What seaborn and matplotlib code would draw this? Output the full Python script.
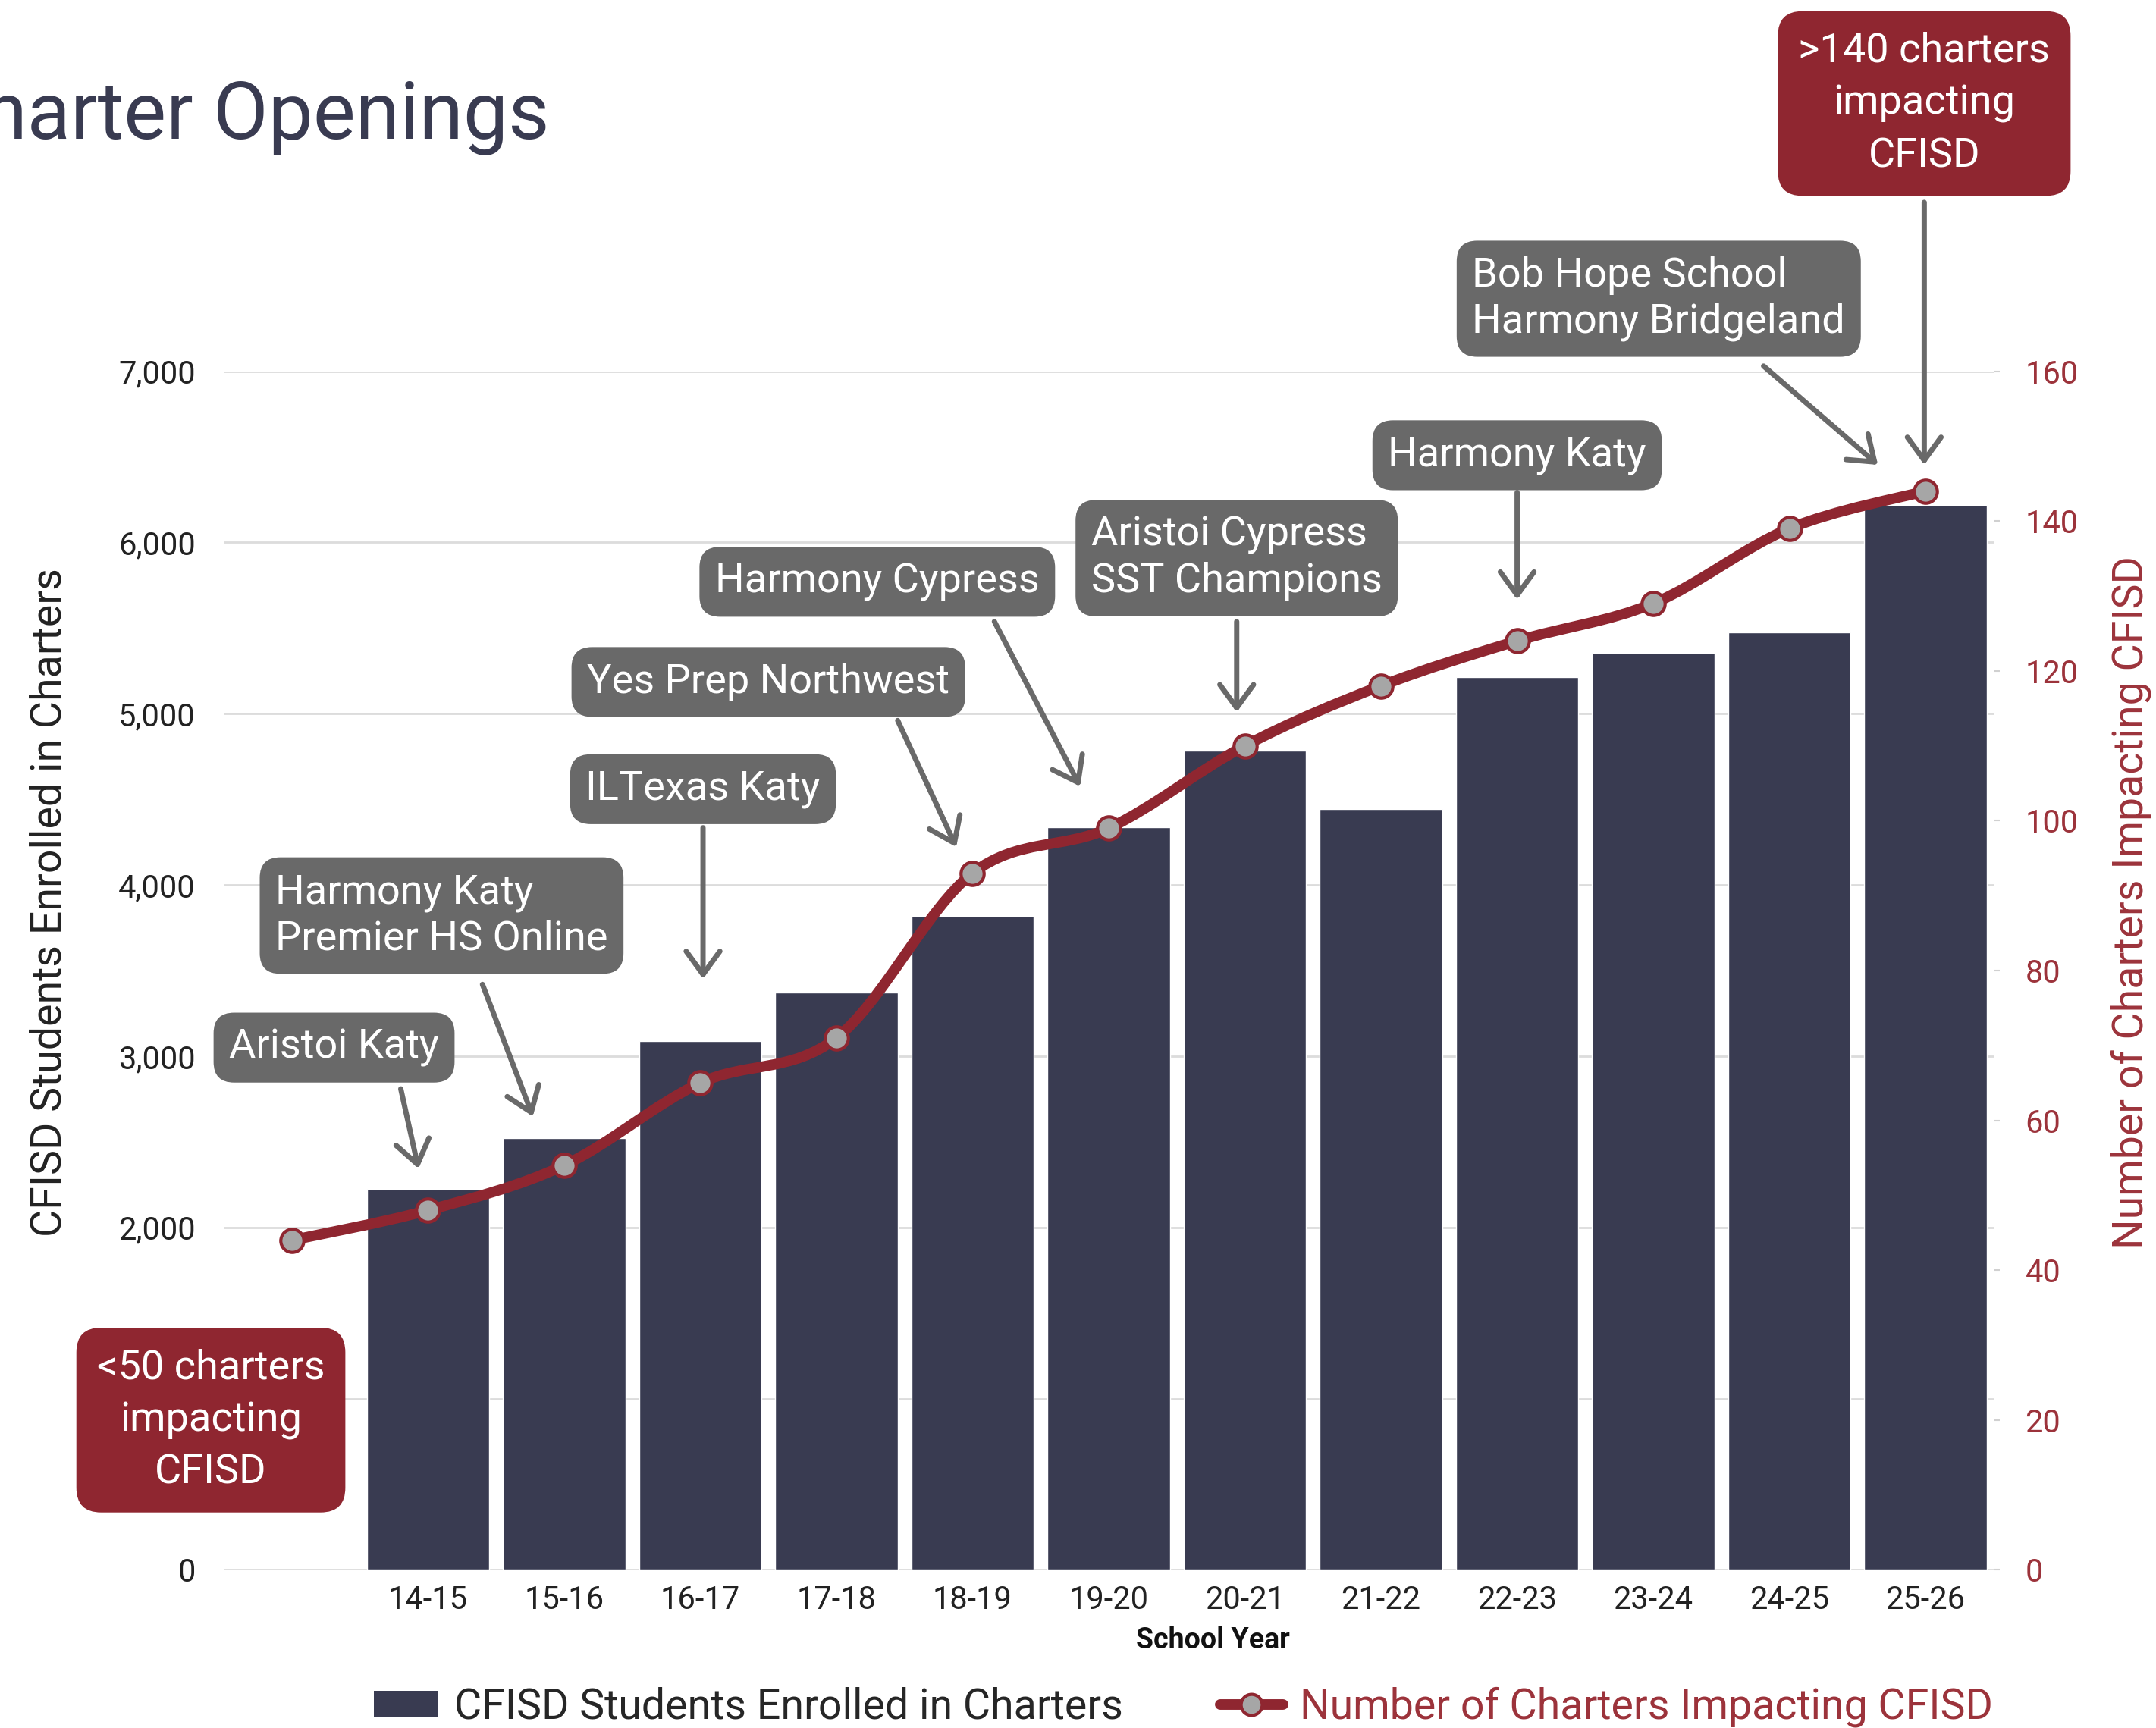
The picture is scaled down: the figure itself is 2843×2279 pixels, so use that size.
import numpy as np
import pandas as pd
import matplotlib
matplotlib.use('Agg')
import matplotlib.pyplot as plt
import seaborn as sns
from matplotlib.path import Path
from matplotlib.patches import PathPatch, Patch
from matplotlib.lines import Line2D
from matplotlib.ticker import FuncFormatter

# data
years = ['', '14-15', '15-16', '16-17', '17-18', '18-19', '19-20',
         '20-21', '21-22', '22-23', '23-24', '24-25', '25-26']
bar_years = years[1:]
students = [2225, 2520, 3090, 3370, 3820, 4335, 4785, 4445, 5215, 5355, 5475, 6220]
charters = [44, 48, 54, 65, 71, 93, 99, 110, 118, 124, 129, 139, 144]

navy = '#393b51'
red = '#8f2630'
red_txt = '#9c333b'
grey_box = '#696969'

sns.set_style('white')
plt.rcParams['font.family'] = ['Roboto', 'DejaVu Sans']

fig = plt.figure(figsize=(28.43, 22.79), dpi=100)
ax = fig.add_axes([0.1038, 0.0915, 0.8209, 0.6937])

df = pd.DataFrame({'year': bar_years, 'students': students})
sns.barplot(data=df, x='year', y='students', order=years, color=navy,
            saturation=1, width=0.9, ax=ax)
ax.set_xlim(-0.5, len(years) - 0.5)
ax.set_ylim(0, 7000)
ax.set_yticks(range(0, 7001, 1000))
# the 1,000 label sits under the "<50 charters" box in the original
ax.yaxis.set_major_formatter(FuncFormatter(lambda v, p: '' if v == 1000 else f'{int(v):,}'))
ax.yaxis.grid(True, color='#dcdcdc', lw=2)
ax.set_axisbelow(True)
ax.tick_params(axis='y', length=0, pad=27, labelsize=30, labelcolor='#222222')
ax.tick_params(axis='x', length=0, pad=14, labelsize=30, labelcolor='#222222')
ax.set_ylabel('CFISD Students Enrolled in Charters', fontsize=40, color='#222222')
ax.yaxis.set_label_coords(-0.0874, 0.557)
ax.set_xlabel('School Year', fontsize=27, fontweight='bold', color='#111111')
ax.xaxis.set_label_coords(0.559, -0.047)
for s in ax.spines.values():
    s.set_visible(False)

ax2 = ax.twinx()
ax2.set_ylim(0, 160)
ax2.set_yticks(range(0, 161, 20))
ax2.tick_params(axis='y', length=6, width=1.5, color='#d0d0d0', pad=24,
                labelsize=30, labelcolor=red_txt)
ax2.set_ylabel('Number of Charters Impacting CFISD', fontsize=40, color=red_txt)
ax2.yaxis.set_label_coords(1.066, 0.557)
for s in ax2.spines.values():
    s.set_visible(False)

# smoothed line (Catmull-Rom drawn as bezier)
pts = np.column_stack([np.arange(len(charters)), charters]).astype(float)
verts = [pts[0]]
codes = [Path.MOVETO]
for i in range(len(pts) - 1):
    p0 = pts[i - 1] if i > 0 else pts[i]
    p1, p2 = pts[i], pts[i + 1]
    p3 = pts[i + 2] if i + 2 < len(pts) else pts[i + 1]
    verts += [p1 + (p2 - p0) / 6, p2 - (p3 - p1) / 6, p2]
    codes += [Path.CURVE4] * 3
ax2.add_patch(PathPatch(Path(verts, codes), fill=False, edgecolor=red, lw=10,
                        capstyle='round', joinstyle='round', zorder=3))
sns.scatterplot(x=np.arange(len(charters)), y=charters, ax=ax2, s=480,
                color='#a6a6a6', edgecolor=red, linewidth=3, zorder=4)

# annotations (in left-axis data coordinates)
T = ax.transData
grey_notes = [
    ('Aristoi Katy', 0.31, 3050, 'center', (0.80, 2809), (0.93, 2343)),
    ('Harmony Katy\nPremier HS Online', 1.10, 3820, 'left', (1.40, 3419), (1.77, 2648)),
    ('ILTexas Katy', 3.02, 4559, 'center', (3.02, 4334), (3.02, 3451)),
    ('Yes Prep Northwest', 3.50, 5185, 'center', (4.45, 4960), (4.88, 4221)),
    ('Harmony Cypress', 4.30, 5770, 'center', (5.16, 5538), (5.79, 4575)),
    ('Aristoi Cypress\nSST Champions', 6.94, 5907, 'left', (6.94, 5538), (6.94, 5008)),
    ('Harmony Katy', 9.00, 6509, 'center', (9.00, 6292), (9.00, 5666)),
    ('Bob Hope School\nHarmony Bridgeland', 10.04, 7424, 'left', (10.81, 7030), (11.65, 6453)),
]
arrow_kw = dict(arrowstyle='->,head_length=0.55,head_width=0.4', color=grey_box,
                lw=5, mutation_scale=40, shrinkA=0, shrinkB=0)
for txt, x, y, al, a0, a1 in grey_notes:
    ax2.text(x, y, txt, transform=T, ha='center', va='center', multialignment=al,
             fontsize=39, color='white', linespacing=1.25, zorder=6,
             bbox=dict(boxstyle='round,pad=0.38,rounding_size=0.5', fc=grey_box, ec='none'))
    ax2.annotate('', xy=a1, xytext=a0, xycoords=T, textcoords=T,
                 arrowprops=arrow_kw, annotation_clip=False, zorder=5)

ax2.text(11.99, 8563, '>140 charters\nimpacting\nCFISD', transform=T, ha='center',
         va='center', fontsize=39, color='white', linespacing=1.45, zorder=6,
         bbox=dict(boxstyle='round,pad=0.5,rounding_size=0.6', fc=red, ec='none'))
ax2.annotate('', xy=(11.99, 6453), xytext=(11.99, 7986), xycoords=T, textcoords=T,
             arrowprops=arrow_kw, annotation_clip=False, zorder=5)
ax2.text(-0.595, 875, '<50 charters\nimpacting\nCFISD', transform=T, ha='center',
         va='center', fontsize=39, color='white', linespacing=1.45, zorder=6,
         bbox=dict(boxstyle='round,pad=0.5,rounding_size=0.6', fc=red, ec='none'))

fig.text(0.255, 0.9197, 'Charter Openings', ha='right', va='baseline',
         fontsize=76, color=navy)

handles = [Patch(facecolor=navy, edgecolor='none'),
           Line2D([], [], color=red, lw=10, marker='o', markersize=20,
                  markerfacecolor='#a6a6a6', markeredgecolor=red, markeredgewidth=3)]
leg = fig.legend(handles, ['CFISD Students Enrolled in Charters',
                           'Number of Charters Impacting CFISD'],
                 loc='center', bbox_to_anchor=(0.549, 0.012), ncol=2, frameon=False,
                 fontsize=40, handlelength=1.5, handleheight=0.6, columnspacing=2.3,
                 handletextpad=0.4)
leg.get_texts()[1].set_color(red_txt)

fig.savefig('out.png', dpi=100)
